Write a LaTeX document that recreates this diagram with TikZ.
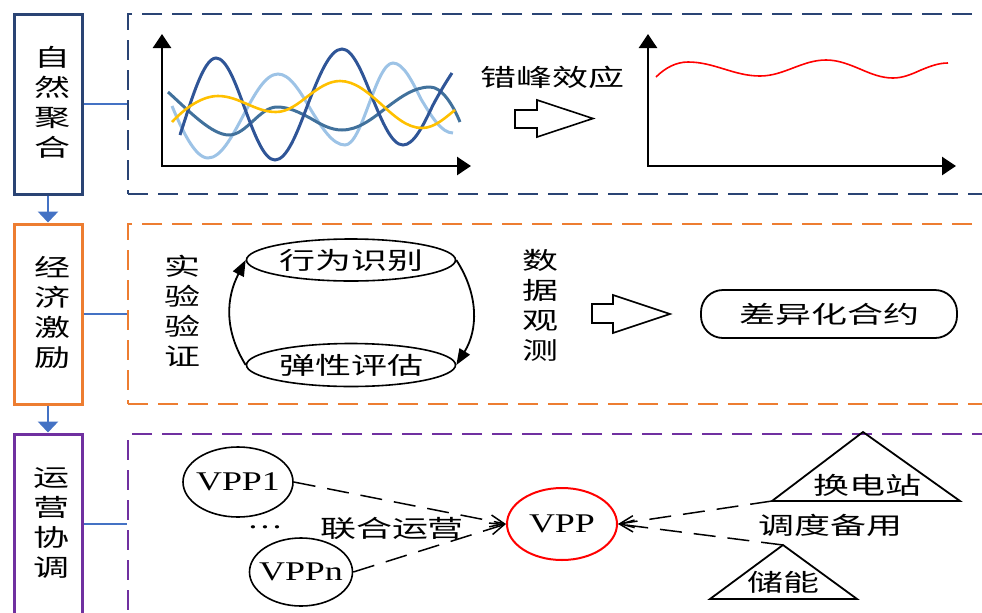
\documentclass[tikz,border=0pt]{standalone}
\usepackage{fontspec}
\setmainfont{Liberation Serif}[FakeStretch=1.33]
\newfontfamily\cjk{Noto Sans CJK SC}[FakeStretch=1.5]
\usetikzlibrary{arrows.meta,shapes.geometric}
\definecolor{navy}{HTML}{2A4474}
\definecolor{conn}{HTML}{4472C4}
\definecolor{org}{HTML}{ED7D31}
\definecolor{pur}{HTML}{7030A0}
\definecolor{cdark}{HTML}{2F5597}
\definecolor{clight}{HTML}{9DC3E6}
\definecolor{cmid}{HTML}{41719C}
\definecolor{cyel}{HTML}{FFC000}
\tikzset{
  cat/.style={draw, line width=1.5pt, minimum width=34pt, minimum height=90pt, inner sep=0pt, align=center, font=\cjk\fontsize{12}{15}\selectfont},
  dbox/.style={draw, dash pattern=on 10pt off 5pt, line width=1.4pt, minimum width=436pt, minimum height=90pt, inner sep=0pt},
  link/.style={draw=conn, line width=1.4pt},
  linkarrow/.style={link, -{Triangle[length=5.5pt,width=10pt]}},
  axes/.style={line width=1.3pt, {Triangle[length=7pt,width=9pt]}-{Triangle[length=7pt,width=9pt]}},
  wave/.style={line width=1.5pt},
  zh/.style={font=\cjk\fontsize{12}{15}\selectfont, inner sep=0pt, align=center},
  lat/.style={font=\fontsize{13.5}{16}\selectfont, inner sep=0pt},
  hollow/.style={draw, line width=0.8pt, fill=white, line join=miter},
  oval/.style={ellipse, draw, line width=0.8pt, inner sep=0pt},
  loopar/.style={line width=0.9pt, -{Triangle[length=8pt,width=6pt]}},
  vdash/.style={dash pattern=on 11pt off 6pt, line width=0.75pt, -{Straight Barb[length=7pt,width=6pt]}},
  tri/.style={draw, line width=0.9pt, line join=miter}
}
\begin{document}
\begin{tikzpicture}[x=0.5pt,y=-0.5pt]
\useasboundingbox (0,0) rectangle (982,612);
\clip (0,0) rectangle (982,612);

% ---- left category boxes ----
\node[cat, draw=navy] (b1) at (48,104) {};
\node[zh] (b1t) at (52,102) {自\\然\\聚\\合};
\node[cat, draw=org]  (b2) at (48,314) {};
\node[zh] (b2t) at (52,312) {经\\济\\激\\励};
\node[cat, draw=pur, minimum height=100pt] (b3) at (48,534) {};
\node[zh] (b3t) at (51,523) {运\\营\\协\\调};

% ---- dashed panels ----
\node[dbox, draw=navy] (d1) at (564,104) {};
\node[dbox, draw=org]  (d2) at (564,314) {};
\node[dbox, draw=pur, minimum height=100pt] (d3) at (564,534) {};

\coordinate (m3) at (100,524);
\draw[link] (b1.east) -- (d1.west);
\draw[link] (b2.east) -- (d2.west);
\draw[link] (b3.east |- m3) -- (d3.west |- m3);
\draw[linkarrow] (b1.south) -- (b2.north);
\draw[linkarrow] (b2.south) -- (b3.north);

% ---- panel 1: chart 1 ----
\coordinate (o1) at (162,166);
\coordinate (y1) at (162,34);
\coordinate (x1) at (471,166);
\draw[axes] (y1) -- (o1) -- (x1);
\draw[wave, clight] (172,106) .. controls (182,130) and (195,158) .. (208,158) cos (243,116) sin (278,74) cos (311,110) sin (345,145) cos (369,104) sin (393,63) cos (421,99) sin (453,133);
\draw[wave, cmid] (168,92) .. controls (190,112) and (212,135) .. (229,135) cos (253,121) sin (277,107) cos (310,118) sin (342,130) cos (386,108) sin (430,87) .. controls (442,87) and (453,105) .. (460,122);
\draw[wave, cdark] (180,135) .. controls (190,105) and (203,58) .. (216,58) cos (245,109) sin (275,160) cos (308,104) sin (342,49) cos (372,97) sin (403,145) cos (433,105) .. controls (440,92) and (446,82) .. (452,73);
\draw[wave, cyel, line width=1.3pt] (172,122) .. controls (185,108) and (202,96) .. (218,96) cos (247,104) sin (276,112) cos (308,96) sin (340,81) cos (381,104) sin (422,128) .. controls (435,128) and (446,117) .. (455,110);

\node[zh] (peak) at (552,77) {错峰效应};
\draw[hollow] (515,110) -- (537,110) -- (537,100) -- (593,118.5) -- (537,137) -- (537,128) -- (515,128) -- cycle;

% ---- panel 1: chart 2 ----
\coordinate (o2) at (648,166);
\coordinate (y2) at (648,34);
\coordinate (x2) at (956,166);
\draw[axes] (y2) -- (o2) -- (x2);
\draw[red, line width=0.8pt] (656,77) .. controls (665,68) and (676,62) .. (688,62) cos (724,69) sin (760,76) cos (793,68) sin (826,60) cos (860,69) sin (893,78) cos (921,70) sin (948,63);

% ---- panel 2 ----
\node[zh] (exp) at (182,311) {实\\验\\验\\证};
\node[oval, minimum width=104.5pt, minimum height=21pt, font=\cjk\fontsize{12}{15}\selectfont] (t) at (351,260) {行为识别};
\node[oval, minimum width=104.5pt, minimum height=21.5pt, font=\cjk\fontsize{12}{15}\selectfont] (b) at (351,365) {弹性评估};
\draw[loopar] (b.west) .. controls (224,330) and (226,298) .. (t.west);
\draw[loopar] (t.east) .. controls (479,295) and (478,330) .. (b.east);
\node[zh] (obs) at (540,305) {数\\据\\观\\测};
\draw[hollow] (592,304) -- (613,304) -- (613,295) -- (670,314) -- (613,333) -- (613,323) -- (592,323) -- cycle;
\node[draw, line width=0.9pt, rounded corners=11pt, minimum width=128pt, minimum height=24pt, zh] (contract) at (829,314) {差异化合约};

% ---- panel 3 ----
\node[oval, minimum width=55pt, minimum height=35pt] (v1) at (238,482) {};
\node[lat] (v1t) at (v1) {VPP1};
\node[lat] (dots) at (265,527) {\ldots};
\node[oval, minimum width=51.5pt, minimum height=34pt] (vn) at (301,572) {};
\node[lat] (vnt) at (vn) {VPPn};
\node[zh] (joint) at (392,528) {联合运营};
\node[oval, draw=red, line width=1pt, minimum width=55pt, minimum height=36pt] (vpp) at (562,524) {};
\node[lat] (vppt) at (vpp) {VPP};
\draw[vdash] (v1.east) -- (vpp.west);
\draw[vdash] (vn.east) -- (vpp.west);

\coordinate (hA) at (863,432);
\coordinate (hR) at (960,501);
\coordinate (hL) at (772,501);
\draw[tri] (hA) -- (hR) -- (hL) -- cycle;
\node[zh] (swap) at (867,485) {换电站};
\coordinate (cA) at (783,545);
\coordinate (cR) at (857,599);
\coordinate (cL) at (710,599);
\draw[tri] (cA) -- (cR) -- (cL) -- cycle;
\node[zh] (store) at (783,582) {储能};
\node[zh] (reserve) at (830,525) {调度备用};
\draw[vdash] (hL) -- (vpp.east);
\draw[vdash] (cA) -- (vpp.east);
\end{tikzpicture}
\end{document}
